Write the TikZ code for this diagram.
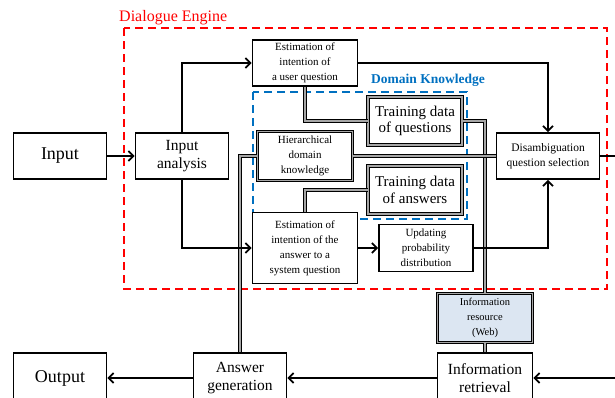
\documentclass[tikz,border=0pt]{standalone}
\usepackage{fontspec}
\setmainfont{Liberation Serif}
\usetikzlibrary{arrows.meta}
\definecolor{engred}{RGB}{255,0,0}
\definecolor{knowblue}{RGB}{0,112,192}
\definecolor{webfill}{RGB}{220,230,242}
\begin{document}
\begin{tikzpicture}[x=1pt, y=-1pt,
    box/.style={draw, line width=1.8pt, fill=white, align=center, inner sep=1pt},
    dbox/.style={draw, line width=1pt, double=gray!70, double distance=1.8pt, fill=white, align=center, inner sep=1pt},
    flow/.style={line width=1.7pt, -{Straight Barb[length=5pt,width=10pt,line width=1.7pt]}},
    link/.style={line width=1pt, double=gray!70, double distance=1.8pt},
    huge/.style={font=\fontsize{18}{20}\selectfont},
    big/.style={font=\fontsize{15.5}{18}\selectfont},
    mid/.style={font=\fontsize{15}{16.5}\selectfont},
    small/.style={font=\fontsize{11}{15}\selectfont}]
    \useasboundingbox (0,0) rectangle (615,397);
    % frames
    \draw[engred, line width=1.8pt, dash pattern=on 8pt off 5pt] (124,28) rectangle (607,289);
    \node[engred, anchor=south west, inner sep=0pt, font=\fontsize{16}{18}\selectfont] (engine) at (119,25) {Dialogue Engine};
    \draw[knowblue, line width=1.8pt, dash pattern=on 8pt off 5pt] (253,92) rectangle (467,219);
    \node[knowblue, anchor=south west, inner sep=0pt, font=\bfseries\fontsize{13.5}{15}\selectfont] (domain) at (371,87) {Domain Knowledge};
    % nodes
    \node[box, huge, minimum width=93, minimum height=46] (in) at (60,156) {Input};
    \node[box, big, minimum width=93, minimum height=46] (ia) at (182,156) {Input\\analysis};
    \node[box, small, minimum width=105, minimum height=46] (eu) at (305,63) {Estimation of\\intention of\\a user question};
    \node[box, small, minimum width=105, minimum height=71] (ea) at (305,248) {Estimation of\\intention of the\\answer to a\\system question};
    \node[box, small, minimum width=94, minimum height=47] (up) at (426,248) {Updating\\probability\\distribution};
    \node[box, small, minimum width=103, minimum height=46, font=\fontsize{11.5}{15}\selectfont] (ds) at (548,156) {Disambiguation\\question selection};
    \node[dbox, mid, minimum width=94, minimum height=48] (tq) at (415,121) {Training data\\of questions};
    \node[dbox, mid, minimum width=94, minimum height=48] (ta) at (415,190) {Training data\\of answers};
    \node[dbox, small, minimum width=95, minimum height=49] (hk) at (305,156) {Hierarchical\\domain\\knowledge};
    \node[dbox, small, fill=webfill, minimum width=95, minimum height=49, font=\fontsize{10.5}{15}\selectfont] (res) at (485,318) {Information\\resource\\(Web)};
    \node[box, big, minimum width=95, minimum height=50] (ir) at (485,378) {Information\\retrieval};
    \node[box, big, minimum width=93, minimum height=50] (ag) at (240,378) {Answer\\generation};
    \node[box, huge, minimum width=93, minimum height=50] (out) at (60,378) {Output};
    \coordinate (fbout) at (615,156);
    \coordinate (fbin) at (615,378);
    % knowledge links
    \draw[link] (eu.south) |- (tq.west);
    \draw[link] (tq.east) -| (res.north);
    \draw[link] (hk.east) -- (ds.west);
    \draw[link] (hk.west) -| (ag.north);
    \draw[link] (ta.west) -| (ea.north);
    \draw[link] (res.south) -- (ir.north);
    % processing flow
    \draw[flow] (in) -- (ia);
    \draw[flow] (ia.north) |- (eu);
    \draw[flow] (ia.south) |- (ea);
    \draw[flow] (eu.east) -| (ds.north);
    \draw[flow] (ea) -- (up);
    \draw[flow] (up.east) -| (ds.south);
    \draw[line width=1.7pt] (ds.east) -- (fbout);
    \draw[flow] (fbin) -- (ir);
    \draw[flow] (ir) -- (ag);
    \draw[flow] (ag) -- (out);
\end{tikzpicture}
\end{document}
